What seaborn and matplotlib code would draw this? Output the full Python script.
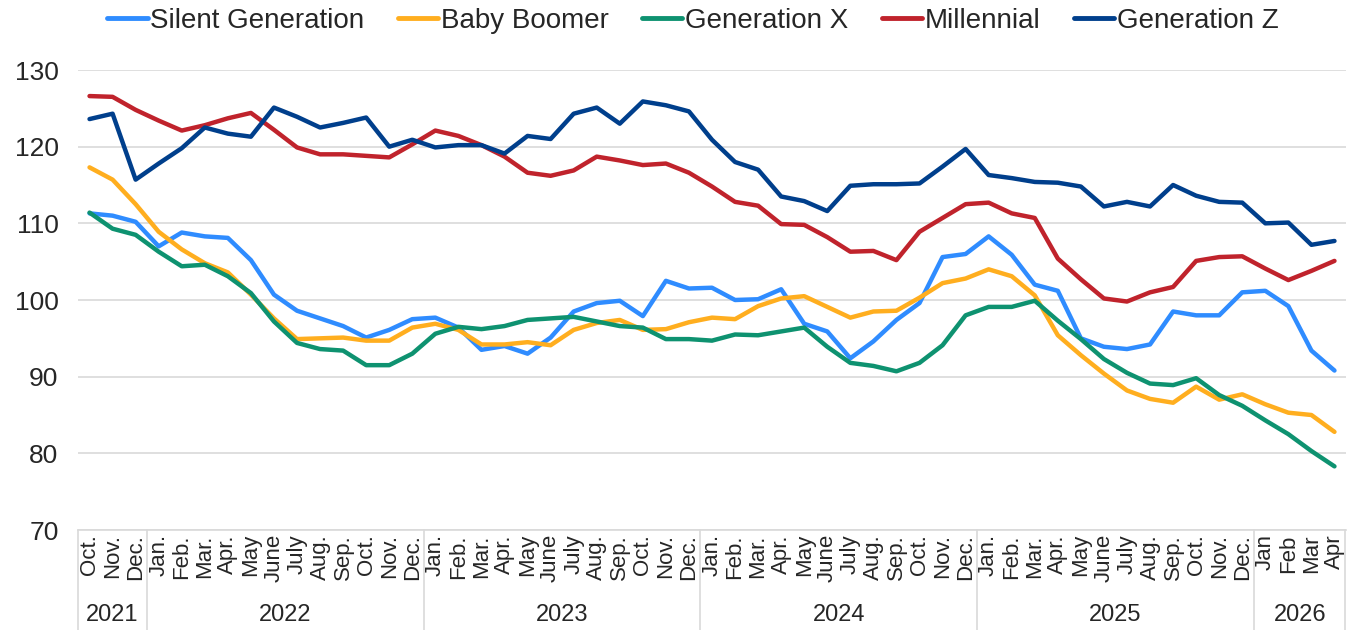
import matplotlib
matplotlib.use("Agg")
import matplotlib.pyplot as plt
import seaborn as sns
import pandas as pd

# data (Oct 2021 .. Apr 2026)
months = (["Oct.", "Nov.", "Dec."]
          + ["Jan.", "Feb.", "Mar.", "Apr.", "May", "June", "July", "Aug.", "Sep.", "Oct.", "Nov.", "Dec."] * 4
          + ["Jan", "Feb", "Mar", "Apr"])
years = ["2021", "2022", "2023", "2024", "2025", "2026"]
year_counts = [3, 12, 12, 12, 12, 4]

silent = [111.3, 111.0, 110.2, 107.0, 108.8, 108.3, 108.1, 105.2, 100.7, 98.6, 97.6, 96.6, 95.1, 96.1, 97.5,
          97.7, 96.4, 93.5, 94.0, 93.0, 95.1, 98.5, 99.6, 99.9, 97.9, 102.5, 101.5, 101.6,
          100.0, 100.1, 101.4, 96.9, 95.9, 92.4, 94.6, 97.4, 99.6, 105.6, 106.0, 108.3, 105.9, 102.0,
          101.2, 95.0, 93.9, 93.6, 94.2, 98.5, 98.0, 98.0, 101.0, 101.2, 99.2, 93.4, 90.8]
boomer = [117.3, 115.7, 112.5, 108.9, 106.6, 104.8, 103.6, 100.7, 97.6, 94.9, 95.0, 95.1, 94.7, 94.7, 96.4,
          96.9, 96.1, 94.2, 94.2, 94.5, 94.1, 96.1, 97.0, 97.4, 96.1, 96.2, 97.1, 97.7,
          97.5, 99.2, 100.2, 100.5, 99.1, 97.7, 98.5, 98.6, 100.3, 102.2, 102.8, 104.0, 103.1, 100.6,
          95.4, 92.8, 90.4, 88.2, 87.1, 86.6, 88.7, 87.0, 87.7, 86.4, 85.3, 85.0, 82.8]
gen_x = [111.4, 109.3, 108.5, 106.3, 104.4, 104.6, 103.1, 100.9, 97.2, 94.4, 93.6, 93.4, 91.5, 91.5, 93.0,
         95.6, 96.5, 96.2, 96.6, 97.4, 97.6, 97.8, 97.2, 96.6, 96.4, 94.9, 94.9, 94.7,
         95.5, 95.4, 95.9, 96.4, 93.9, 91.8, 91.4, 90.7, 91.8, 94.1, 98.0, 99.1, 99.1, 99.9,
         97.3, 94.9, 92.3, 90.5, 89.1, 88.9, 89.8, 87.6, 86.2, 84.3, 82.5, 80.3, 78.3]
millennial = [126.6, 126.5, 124.8, 123.4, 122.1, 122.8, 123.7, 124.4, 122.2, 119.9, 119.0, 119.0, 118.8, 118.6, 120.3,
              122.1, 121.4, 120.2, 118.7, 116.6, 116.2, 116.9, 118.7, 118.2, 117.6, 117.8, 116.6, 114.8,
              112.8, 112.3, 109.9, 109.8, 108.2, 106.3, 106.4, 105.2, 108.9, 110.7, 112.5, 112.7, 111.3, 110.7,
              105.4, 102.7, 100.2, 99.8, 101.0, 101.7, 105.1, 105.6, 105.7, 104.1, 102.6, 103.8, 105.1]
gen_z = [123.6, 124.3, 115.7, 117.8, 119.8, 122.5, 121.7, 121.3, 125.1, 123.9, 122.5, 123.1, 123.8, 120.0, 120.9,
         119.9, 120.2, 120.2, 119.1, 121.4, 121.0, 124.3, 125.1, 123.0, 125.9, 125.4, 124.6, 120.9,
         118.0, 117.0, 113.5, 112.9, 111.6, 114.9, 115.1, 115.1, 115.2, 117.4, 119.7, 116.3, 115.9, 115.4,
         115.3, 114.8, 112.2, 112.8, 112.2, 115.0, 113.6, 112.8, 112.7, 110.0, 110.1, 107.2, 107.7]

series = {"Silent Generation": silent, "Baby Boomer": boomer, "Generation X": gen_x,
          "Millennial": millennial, "Generation Z": gen_z}
colors = ["#2F8CFF", "#FFAE1F", "#0E9270", "#C0232C", "#003F8C"]

rows = []
for name, vals in series.items():
    for i, v in enumerate(vals):
        rows.append({"idx": i, "value": v, "generation": name})
df = pd.DataFrame(rows)

sns.set_theme(style="white")
plt.rcParams["font.family"] = ["Liberation Sans", "DejaVu Sans"]

fig = plt.figure(figsize=(13.51, 6.30), dpi=100)
ax = fig.add_axes([78 / 1351, 100 / 630, 1268 / 1351, 460 / 630])

sns.lineplot(data=df, x="idx", y="value", hue="generation", palette=colors,
             linewidth=3.2, ax=ax, legend=True)

ax.set_xlim(-0.5, len(months) - 0.5)
ax.set_ylim(70, 130)
ax.set_yticks(range(70, 131, 10))
ax.yaxis.grid(True, color="#d9d9d9", linewidth=1.2)
ax.xaxis.grid(False)
for s in ["top", "right", "left"]:
    ax.spines[s].set_visible(False)
ax.spines["bottom"].set_color("#d9d9d9")
ax.spines["bottom"].set_linewidth(1.2)
ax.set_xlabel("")
ax.set_ylabel("")
ax.tick_params(axis="y", labelsize=19, labelcolor="#262626", length=0, pad=14)
ax.set_xticks(range(len(months)))
ax.set_xticklabels(months, rotation=90, fontsize=16, color="#262626")
ax.tick_params(axis="x", length=0, pad=3)

# year groups with separators below the axis
bounds = [-0.5]
for c in year_counts:
    bounds.append(bounds[-1] + c)
trans = ax.get_xaxis_transform()
for b in bounds:
    xb = min(b, len(months) - 0.56)
    ax.plot([xb, xb], [0, -0.25], transform=trans, color="#d9d9d9", lw=1.2, clip_on=False)
for y, a, b in zip(years, bounds[:-1], bounds[1:]):
    ax.text((a + b) / 2, -0.185, y, transform=trans, ha="center", va="center",
            fontsize=17, color="#262626")

leg = ax.legend(loc="upper center", bbox_to_anchor=(0.485, 1.19), ncol=5, frameon=False,
                fontsize=20, handlelength=1.45, handletextpad=0.1, columnspacing=1.2)
for line in leg.get_lines():
    line.set_linewidth(3.5)
for t in leg.get_texts():
    t.set_color("#262626")

fig.savefig("out.png", dpi=100)
